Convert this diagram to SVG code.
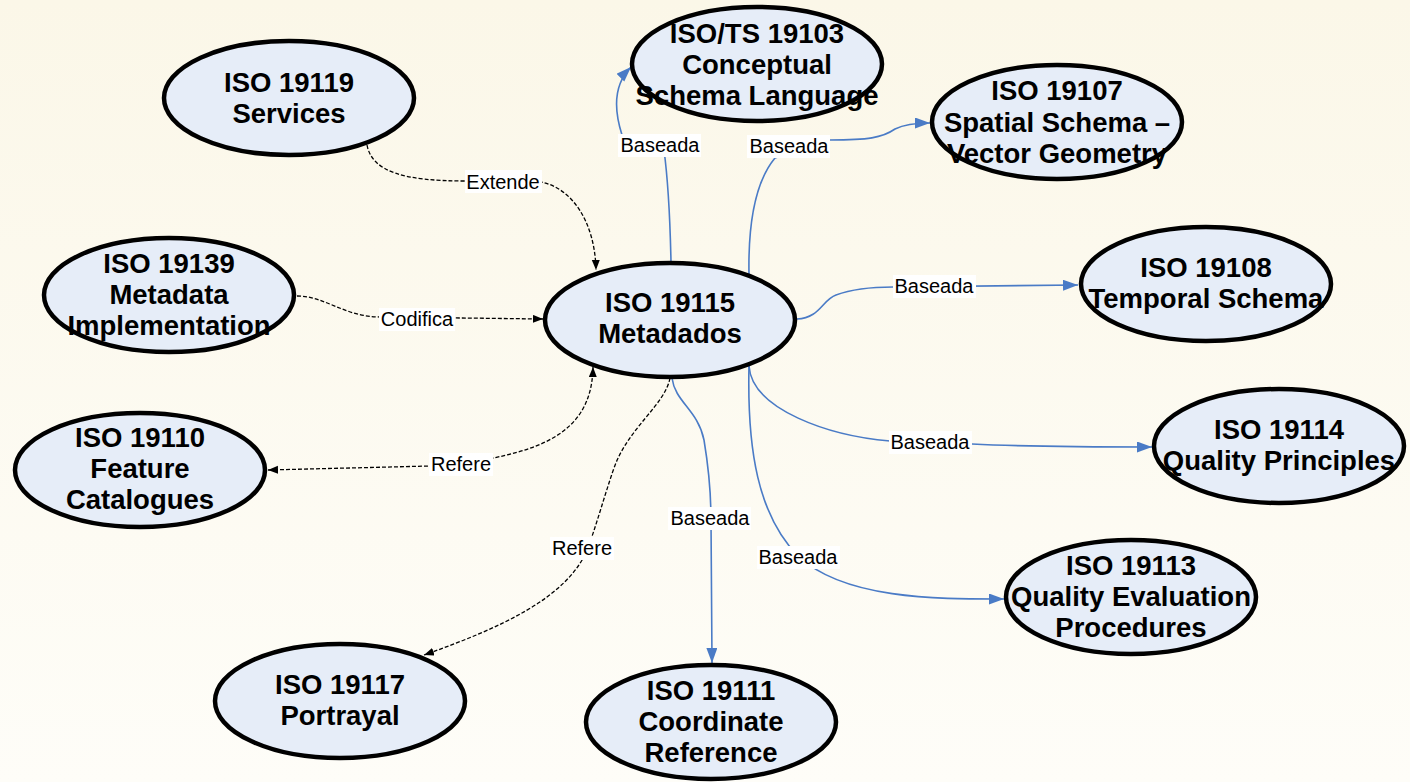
<svg xmlns="http://www.w3.org/2000/svg" width="1410" height="782" viewBox="0 0 1410 782">
<style>
.node ellipse{fill:#E6EDF8;stroke:#000;stroke-width:4.5}
.node text{font-family:"Liberation Sans",Arial,sans-serif;font-weight:bold;font-size:27.5px;text-anchor:middle;fill:#000}
.blue{fill:none;stroke:#4A7BC6;stroke-width:1.6;marker-end:url(#ab)}
.dash{fill:none;stroke:#000;stroke-width:1.3;stroke-dasharray:4 2;marker-end:url(#ak)}
.lbl rect{fill:#fff}
.lbl text{font-family:"Liberation Sans",Arial,sans-serif;font-size:20px;text-anchor:middle;fill:#000}
</style>
<defs>
<linearGradient id="bg" x1="0" y1="0" x2="0" y2="1">
<stop offset="0" stop-color="#FBF7E8"/>
<stop offset="1" stop-color="#FEFDF8"/>
</linearGradient>
<marker id="ab" markerUnits="userSpaceOnUse" markerWidth="16" markerHeight="12" refX="15" refY="5.5" orient="auto"><path d="M0,0 L15,5.5 L0,11 z" fill="#4A7BC6"/></marker>
<marker id="ak" markerUnits="userSpaceOnUse" markerWidth="11" markerHeight="9" refX="10" refY="4" orient="auto-start-reverse"><path d="M0,0 L10,4 L0,8 z" fill="#000"/></marker>
</defs>
<rect width="1410" height="782" fill="url(#bg)"/>
<g id="connectors">
<path class="dash" d="M367,145 C372,172 405,181 465,181 L541,182 C572,188 595,222 596,270"/>
<path class="dash" d="M297,296 C325,296 345,317 380,317 L543,319"/>
<path class="dash" style="marker-start:url(#ak)" d="M268,470 L430,466 C455,465 470,462 493,458 C560,445 592,420 593,367"/>
<path class="dash" d="M670,378 C665,405 628,428 614,468 C604,497 598,520 588,548 C568,598 500,628 424,655"/>
<path class="blue" d="M672,378 C675,402 698,410 704,440 C709,470 711,495 711,520 L712,663"/>
<path class="blue" d="M749,366 C752,410 830,436 890,441 L972,444 C1030,447 1080,447 1152,447"/>
<path class="blue" d="M749,366 C747,450 758,515 798,556 C845,600 940,599 1004,599"/>
<path class="blue" d="M671,262 C670,215 668,180 664,150 L622,135 C614,110 613,85 631,67"/>
<path class="blue" d="M749,275 C748,222 755,182 775,158 L830,140 C868,140 882,138 895,129 C905,124 915,123 930,123"/>
<path class="blue" d="M797,319 C820,318 822,300 836,295 C855,288 875,287 893,287 L1078,285"/>
<g class="lbl">
<rect x="465" y="170" width="77" height="23"/><text x="503" y="188.5">Extende</text>
<rect x="379" y="308" width="76" height="23"/><text x="417" y="326">Codifica</text>
<rect x="429" y="453" width="64" height="23"/><text x="461" y="471">Refere</text>
<rect x="550" y="537" width="64" height="23"/><text x="582" y="555">Refere</text>
<rect x="668" y="507" width="83" height="23"/><text x="710" y="525">Baseada</text>
<rect x="889" y="431" width="83" height="23"/><text x="930" y="449">Baseada</text>
<rect x="757" y="546" width="83" height="23"/><text x="798" y="564">Baseada</text>
<rect x="618" y="134" width="83" height="23"/><text x="660" y="152">Baseada</text>
<rect x="747" y="135" width="83" height="23"/><text x="789" y="153">Baseada</text>
<rect x="893" y="275" width="83" height="23"/><text x="934" y="293">Baseada</text>
</g>
</g>
<g id="n19119" class="node"><ellipse cx="289" cy="98" rx="125" ry="57"/><text x="289" y="92">ISO 19119</text><text x="289" y="123">Services</text></g>
<g id="n19103" class="node"><ellipse cx="757" cy="64" rx="125" ry="57"/><text x="757" y="43">ISO/TS 19103</text><text x="757" y="74">Conceptual</text><text x="757" y="105">Schema Language</text></g>
<g id="n19107" class="node"><ellipse cx="1057" cy="122" rx="125" ry="57"/><text x="1057" y="100">ISO 19107</text><text x="1057" y="132">Spatial Schema –</text><text x="1057" y="163">Vector Geometry</text></g>
<g id="n19139" class="node"><ellipse cx="169" cy="295" rx="125" ry="57"/><text x="169" y="273">ISO 19139</text><text x="169" y="304">Metadata</text><text x="169" y="335">Implementation</text></g>
<g id="n19115" class="node"><ellipse cx="670" cy="320" rx="125" ry="57"/><text x="670" y="312">ISO 19115</text><text x="670" y="343">Metadados</text></g>
<g id="n19108" class="node"><ellipse cx="1206" cy="284" rx="125" ry="57"/><text x="1206" y="277">ISO 19108</text><text x="1206" y="308">Temporal Schema</text></g>
<g id="n19110" class="node"><ellipse cx="140" cy="470" rx="125" ry="57"/><text x="140" y="447">ISO 19110</text><text x="140" y="478">Feature</text><text x="140" y="509">Catalogues</text></g>
<g id="n19114" class="node"><ellipse cx="1279" cy="446" rx="125" ry="57"/><text x="1279" y="439">ISO 19114</text><text x="1279" y="470">Quality Principles</text></g>
<g id="n19113" class="node"><ellipse cx="1131" cy="597" rx="125" ry="57"/><text x="1131" y="575">ISO 19113</text><text x="1131" y="606">Quality Evaluation</text><text x="1131" y="637">Procedures</text></g>
<g id="n19117" class="node"><ellipse cx="340" cy="701" rx="125" ry="57"/><text x="340" y="694">ISO 19117</text><text x="340" y="725">Portrayal</text></g>
<g id="n19111" class="node"><ellipse cx="711" cy="722" rx="125" ry="57"/><text x="711" y="700">ISO 19111</text><text x="711" y="731">Coordinate</text><text x="711" y="762">Reference</text></g>
</svg>
